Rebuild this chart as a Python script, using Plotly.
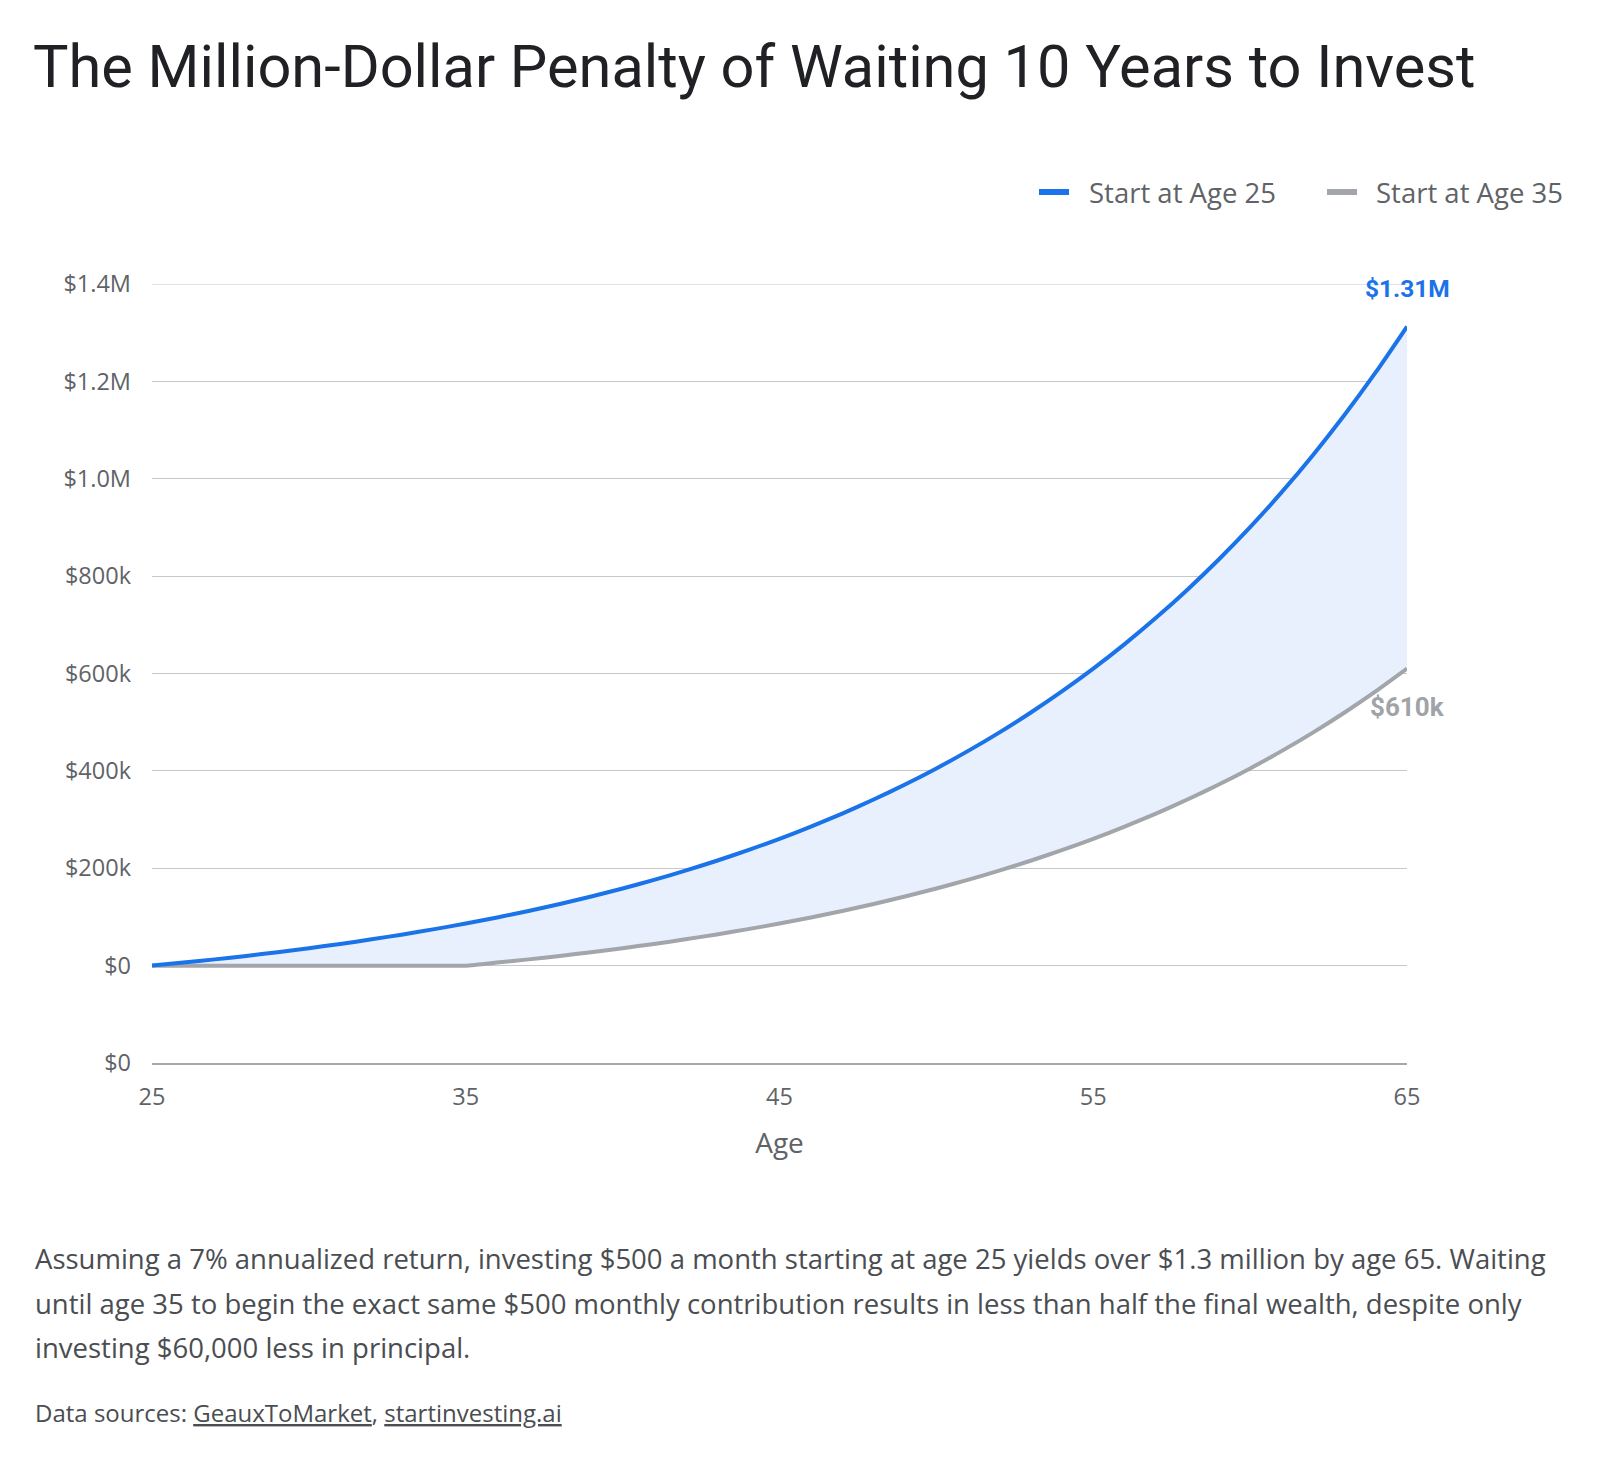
import plotly.graph_objects as go

ages = list(range(25, 66))
start_25 = [0, 6196, 12841, 19966, 27606, 35798, 44583, 54003, 64104, 74934,
            86548, 99001, 112355, 126674, 142029, 158493, 176148, 195079, 215379, 237146,
            260486, 285514, 312351, 341129, 371986, 405074, 440555, 478601, 519398, 563143,
            610051, 660350, 714286, 772120, 834136, 900635, 971941, 1048401, 1130389, 1218304,
            1312576]
start_35 = [0, 0, 0, 0, 0, 0, 0, 0, 0, 0,
            0, 6196, 12841, 19966, 27606, 35798, 44583, 54003, 64104, 74934,
            86548, 99001, 112355, 126674, 142029, 158493, 176148, 195079, 215379, 237146,
            260486, 285514, 312351, 341129, 371986, 405074, 440555, 478601, 519398, 563143,
            610051]
series_names = ["Start at Age 25", "Start at Age 35"]
y_tickvals = [-200000, 0, 200000, 400000, 600000, 800000, 1000000, 1200000, 1400000]
y_ticktext = ["$0", "$0", "$200k", "$400k", "$600k", "$800k", "$1.0M", "$1.2M", "$1.4M"]
x_tickvals = [25, 35, 45, 55, 65]
end_labels = ["$1.31M", "$610k"]

title = "The Million-Dollar Penalty of Waiting 10 Years to Invest"
caption_lines = [
    "Assuming a 7% annualized return, investing $500 a month starting at age 25 yields over $1.3 million by age 65. Waiting",
    "until age 35 to begin the exact same $500 monthly contribution results in less than half the final wealth, despite only",
    "investing $60,000 less in principal.",
]
sources = 'Data sources: <u>GeauxToMarket</u>, <u>startinvesting.ai</u>'

BLUE = "#1a73e8"
GRAY = "#a2a5a9"
TFONT = "Roboto"
FONT = "Open Sans"

PL, PR, PT, PB = 152, 1407, 284, 1063


def px_x(px):
    return (px - PL) / (PR - PL)


def px_y(py):
    return (PB - py) / (PB - PT)


fig = go.Figure()
fig.add_trace(go.Scatter(
    x=ages, y=start_35, name=series_names[1], mode="lines",
    line=dict(color=GRAY, width=4, shape="spline", smoothing=0.6),
    showlegend=False, hoverinfo="skip"))
fig.add_trace(go.Scatter(
    x=ages, y=start_25, name=series_names[0], mode="lines",
    line=dict(color=BLUE, width=4, shape="spline", smoothing=0.6),
    fill="tonexty", fillcolor="rgba(232,240,253,1)",
    showlegend=False, hoverinfo="skip"))

# top gridline at the range edge
fig.add_shape(type="line", xref="paper", yref="y", x0=0, x1=1,
              y0=y_tickvals[-1], y1=y_tickvals[-1],
              line=dict(color="#c6c8ca", width=1), layer="below")

# custom legend
legend_items = [(series_names[0], BLUE, 1039, 1087), (series_names[1], GRAY, 1327, 1374)]
for name, color, lx, tx in legend_items:
    fig.add_shape(type="line", xref="paper", yref="paper",
                  x0=px_x(lx), x1=px_x(lx + 30), y0=px_y(192), y1=px_y(192),
                  line=dict(color=color, width=6))
    fig.add_annotation(xref="paper", yref="paper", x=px_x(tx), y=px_y(192),
                       xanchor="left", yanchor="middle", showarrow=False, text=name,
                       font=dict(family=FONT, size=27.5, color="#5f6368"))

fig.add_annotation(x=ages[-1], y=start_25[-1], text="<b>" + end_labels[0] + "</b>",
                   showarrow=False, xanchor="center", yanchor="middle", yshift=38,
                   font=dict(family=TFONT, size=24.5, color=BLUE))
fig.add_annotation(x=ages[-1], y=start_35[-1], text="<b>" + end_labels[1] + "</b>",
                   showarrow=False, xanchor="center", yanchor="middle", yshift=-38,
                   font=dict(family=TFONT, size=26, color="#a0a3a7"))

for line, ypx in zip(caption_lines, [1258, 1303, 1347]):
    fig.add_annotation(xref="paper", yref="paper", x=px_x(33), y=px_y(ypx),
                       xanchor="left", yanchor="middle", align="left", showarrow=False,
                       text=line, font=dict(family=FONT, size=27.5, color="#4a4d51"))
fig.add_annotation(xref="paper", yref="paper", x=px_x(33), y=px_y(1412),
                   xanchor="left", yanchor="middle", align="left", showarrow=False,
                   text=sources, font=dict(family=FONT, size=24, color="#4a4d51"))

fig.update_layout(
    width=1600, height=1460,
    paper_bgcolor="white", plot_bgcolor="white",
    margin=dict(l=PL, r=1600 - PR, t=PT, b=1460 - PB),
    font=dict(family=FONT, color="#5f6368"),
    title=dict(text=title, xref="container", yref="container", x=33 / 1600,
               y=1 - 66 / 1460, xanchor="left", yanchor="middle",
               font=dict(family=TFONT, size=59.5, color="#202124")),
    showlegend=False,
    xaxis=dict(range=[25, 65], tickvals=x_tickvals, showgrid=False, zeroline=False,
               showline=True, linecolor="#a8a8a8", linewidth=2, ticks="",
               ticklabelstandoff=12, tickfont=dict(family=FONT, size=23.5, color="#5f6368"),
               title=dict(text="Age", font=dict(family=FONT, size=28, color="#5f6368"),
                          standoff=22)),
    yaxis=dict(range=[-200000, 1400000], tickvals=y_tickvals, ticktext=y_ticktext,
               showgrid=True, gridcolor="#c6c8ca", gridwidth=1, zeroline=False,
               ticks="", ticklabelstandoff=20,
               tickfont=dict(family=FONT, size=23.5, color="#5f6368")),
)

fig.write_html("out.html")
